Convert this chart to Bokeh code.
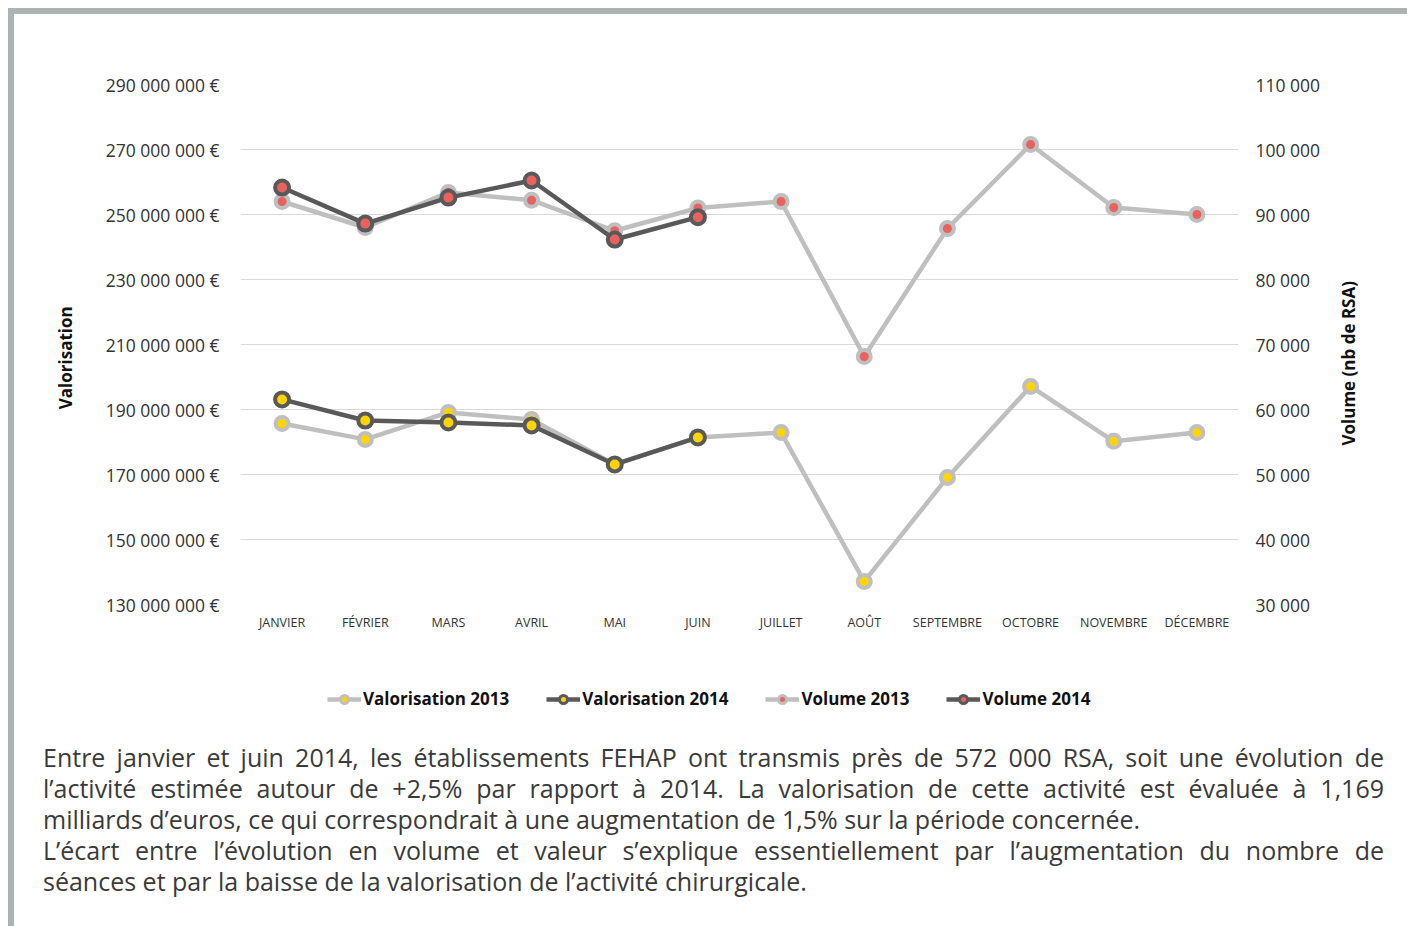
from bokeh.plotting import figure
from bokeh.models import (FactorRange, Range1d, LinearAxis, FixedTicker, Legend,
                          LegendItem, Div)
from bokeh.layouts import column
from bokeh.embed import file_html
from bokeh.resources import INLINE
import math

months = ["JANVIER", "FÉVRIER", "MARS", "AVRIL", "MAI", "JUIN", "JUILLET",
          "AOÛT", "SEPTEMBRE", "OCTOBRE", "NOVEMBRE", "DÉCEMBRE"]

valorisation_2013 = [185.7e6, 180.8e6, 189.1e6, 186.9e6, 173.1e6, 181.4e6,
                     182.9e6, 137.1e6, 169.1e6, 197.1e6, 180.2e6, 182.9e6]
valorisation_2014 = [193.1e6, 186.6e6, 186.0e6, 185.1e6, 173.1e6, 181.4e6]
volume_2013 = [92000, 88000, 93400, 92200, 87500, 91000,
               92000, 68150, 87850, 100770, 91080, 90000]
volume_2014 = [94150, 88600, 92600, 95230, 86150, 89590]

left_ticks = [130e6, 150e6, 170e6, 190e6, 210e6, 230e6, 250e6, 270e6, 290e6]
left_tick_labels = ["130 000 000 €", "150 000 000 €", "170 000 000 €",
                    "190 000 000 €", "210 000 000 €", "230 000 000 €",
                    "250 000 000 €", "270 000 000 €", "290 000 000 €"]
right_ticks = [30000, 40000, 50000, 60000, 70000, 80000, 90000, 100000, 110000]
right_tick_labels = ["30 000", "40 000", "50 000", "60 000", "70 000",
                     "80 000", "90 000", "100 000", "110 000"]

legend_labels = ["Valorisation 2013", "Valorisation 2014", "Volume 2013", "Volume 2014"]

paragraph_lines = [
    "Entre janvier et juin 2014, les établissements FEHAP ont transmis près de 572 000 RSA, soit une évolution de",
    "l’activité estimée autour de +2,5% par rapport à 2014. La valorisation de cette activité est évaluée à 1,169",
    "milliards d’euros, ce qui correspondrait à une augmentation de 1,5% sur la période concernée.",
    "L’écart entre l’évolution en volume et valeur s’explique essentiellement par l’augmentation du nombre de",
    "séances et par la baisse de la valorisation de l’activité chirurgicale.",
]
paragraph_justified = [True, True, False, True, False]

FONT = "Open Sans"
DARK = "#595959"
LIGHT = "#bfbfbf"
YELLOW = "#ffd400"
RED = "#e8625f"
NBSP = "\u00a0"

p = figure(x_range=FactorRange(*months, range_padding=0),
           y_range=Range1d(130e6, 290e6),
           width=1393, height=626,
           min_border_left=226, min_border_right=169,
           min_border_top=70, min_border_bottom=36,
           output_backend="svg", toolbar_location=None,
           outline_line_color=None, background_fill_color="white",
           border_fill_color="white")
p.extra_y_ranges = {"vol": Range1d(30000, 110000)}

# left axis
ya = p.yaxis[0]
ya.ticker = FixedTicker(ticks=left_ticks)
ya.major_label_overrides = {int(t): l for t, l in zip(left_ticks, left_tick_labels)}
ya.axis_line_color = None
ya.major_tick_line_color = None
ya.minor_tick_line_color = None
ya.major_label_text_font = FONT
ya.major_label_text_font_size = "17.5px"
ya.major_label_text_color = "#333333"
ya.major_label_standoff = 15
ya.axis_label = "Valorisation" + NBSP * 6
ya.axis_label_text_font = FONT
ya.axis_label_text_font_size = "17px"
ya.axis_label_text_font_style = "bold"
ya.axis_label_text_color = "#111111"
ya.axis_label_standoff = 26

# right axis
ra = LinearAxis(y_range_name="vol", ticker=FixedTicker(ticks=right_ticks))
ra.major_label_overrides = {int(t): l for t, l in zip(right_ticks, right_tick_labels)}
ra.axis_line_color = None
ra.major_tick_line_color = None
ra.minor_tick_line_color = None
ra.major_label_text_font = FONT
ra.major_label_text_font_size = "17.5px"
ra.major_label_text_color = "#333333"
ra.major_label_standoff = 11
right_title = "Volume (nb de RSA)"
ra.axis_label_text_font = FONT
ra.axis_label_text_font_size = "17px"
ra.axis_label_text_font_style = "bold"
ra.axis_label_text_color = "#111111"
ra.axis_label_standoff = 25
pad = ""
try:
    ra.axis_label_orientation = math.pi / 2
    try:
        ra.axis_label_align = "start"
        pad = NBSP * 36
    except Exception:
        pass
except Exception:
    pass
ra.axis_label = pad + right_title
p.add_layout(ra, "right")

# x axis
xa = p.xaxis[0]
xa.axis_line_color = None
xa.major_tick_line_color = None
xa.minor_tick_line_color = None
xa.major_label_text_font = FONT
xa.major_label_text_font_size = "12.5px"
xa.major_label_text_color = "#333333"
xa.major_label_standoff = 3

p.xgrid.grid_line_color = None
p.ygrid.grid_line_color = "#d9d9d9"
p.ygrid.grid_line_width = 1

series_style = [
    dict(color=LIGHT, fill=YELLOW, size=13),
    dict(color=DARK, fill=YELLOW, size=14),
    dict(color=LIGHT, fill=RED, size=13),
    dict(color=DARK, fill=RED, size=14),
]
series_data = [
    (months, valorisation_2013, "default"),
    (months[:6], valorisation_2014, "default"),
    (months, volume_2013, "vol"),
    (months[:6], volume_2014, "vol"),
]
for (xs, ys, rng), st in zip(series_data, series_style):
    p.line(xs, ys, line_color=st["color"], line_width=4.5, y_range_name=rng)
    p.scatter(xs, ys, size=st["size"], fill_color=st["fill"],
              line_color=st["color"], line_width=4, y_range_name=rng)

# legend strip: a figure whose ranges keep the series out of view,
# so only its legend shows
lg = figure(width=1393, height=90, x_range=FactorRange(*months, range_padding=0),
            y_range=Range1d(0, 1),
            min_border=0, output_backend="svg", toolbar_location=None,
            outline_line_color=None, background_fill_color="white",
            border_fill_color="white")
lg.axis.visible = False
lg.grid.visible = False
items = []
for (xs, ys, rng), label, st in zip(series_data, legend_labels, series_style):
    lr = lg.line(xs, ys, line_color=st["color"], line_width=4.5)
    sr = lg.scatter(xs, ys, size=10, fill_color=st["fill"],
                    line_color=st["color"], line_width=3)
    items.append(LegendItem(label=label, renderers=[lr, sr]))
legend = Legend(items=items, orientation="horizontal", location=(87, 20),
                label_text_font=FONT, label_text_font_size="17px",
                label_text_font_style="bold", label_text_color="#111111",
                glyph_width=34, glyph_height=20, label_standoff=2,
                spacing=37, padding=0, margin=0,
                border_line_alpha=0, background_fill_alpha=0)
lg.add_layout(legend)

html_lines = []
for line, just in zip(paragraph_lines, paragraph_justified):
    align = "justify" if just else "left"
    html_lines.append(
        f'<div style="width:1341px;white-space:nowrap;text-align:justify;'
        f'text-align-last:{align};">{line}</div>')
div = Div(text="".join(html_lines), width=1341, height=184,
          margin=(12, 0, 0, 29),
          styles={"font-family": "'Open Sans'", "font-size": "25px",
                  "line-height": "31px", "color": "#3a3a3a"})

layout = column(p, lg, div, margin=(8, 0, 0, 8), spacing=0,
                styles={"border-top": "6px solid #adb3b2",
                        "border-left": "6px solid #adb3b2",
                        "background-color": "white"})

open("out.html", "w").write(file_html(layout, INLINE))
